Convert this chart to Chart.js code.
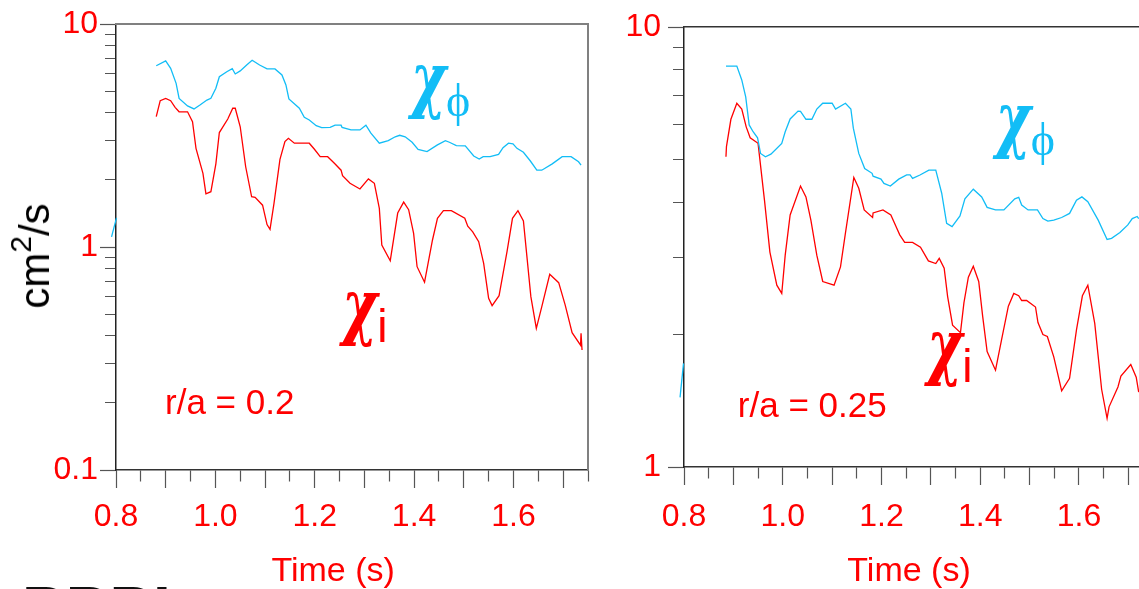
<!DOCTYPE html>
<html>
<head>
<meta charset="utf-8">
<script src="https://cdn.jsdelivr.net/npm/chart.js@4/dist/chart.umd.min.js"></script>
<style>
  html, body { margin: 0; padding: 0; background: #fff; }
  body { width: 1139px; height: 589px; overflow: hidden; position: relative; font-family: "Liberation Sans", Arial, sans-serif; }
  canvas { position: absolute; top: 0; }
  #c1 { left: 0; }
  #c2 { left: 570px; }
  #ytitle { position: absolute; left: 37px; top: 256px; transform: translate(-50%, -50%) rotate(-90deg);
            font-size: 42px; line-height: 42px; white-space: nowrap; color: #000; }
  #ytitle sup { font-size: 30px; position: relative; top: -18px; vertical-align: baseline; }
  #logo { position: absolute; left: 22px; top: 578px; font: bold 64px/64px "Liberation Sans", Arial, sans-serif; color: #111; letter-spacing: 1px; }
</style>
</head>
<body>
<canvas id="c1" width="600" height="589"></canvas>
<canvas id="c2" width="600" height="589"></canvas>
<div id="ytitle">cm<sup>2</sup>/s</div>
<div id="logo">PPPL</div>
<script>
// ---------------- data ----------------
// Left panel (r/a = 0.2): [time (s), chi (cm^2/s)]
const leftChiPhi = [
  [0.881,6.50],[0.900,6.83],[0.910,6.33],[0.921,5.42],[0.927,4.64],[0.944,4.29],[0.957,4.16],[0.969,4.33],
  [0.983,4.56],[0.991,4.64],[1.001,5.15],[1.008,5.80],[1.023,6.11],[1.034,6.30],[1.040,5.97],[1.050,6.16],
  [1.063,6.55],[1.074,6.88],[1.089,6.55],[1.104,6.29],[1.120,6.29],[1.134,5.91],[1.142,5.33],[1.148,4.61],
  [1.169,4.19],[1.179,3.82],[1.189,3.71],[1.203,3.50],[1.214,3.43],[1.231,3.44],[1.241,3.52],[1.253,3.52],
  [1.255,3.44],[1.273,3.35],[1.291,3.35],[1.303,3.52],[1.313,3.24],[1.330,2.92],[1.348,3.00],[1.362,3.12],
  [1.371,3.17],[1.382,3.12],[1.396,2.95],[1.408,2.74],[1.426,2.68],[1.447,2.87],[1.463,3.00],[1.471,2.95],
  [1.485,2.85],[1.503,2.84],[1.520,2.56],[1.531,2.48],[1.539,2.54],[1.553,2.54],[1.570,2.60],[1.579,2.79],
  [1.590,2.92],[1.599,2.90],[1.607,2.77],[1.620,2.66],[1.634,2.43],[1.647,2.21],[1.657,2.21],[1.678,2.36],
  [1.698,2.54],[1.716,2.54],[1.731,2.41],[1.736,2.33]
];
const leftChiI = [
  [0.881,3.84],[0.889,4.53],[0.900,4.64],[0.910,4.53],[0.919,4.23],[0.927,4.04],[0.944,4.04],[0.954,3.65],
  [0.961,2.77],[0.975,2.14],[0.981,1.73],[0.991,1.77],[1.001,2.36],[1.008,3.26],[1.025,3.75],[1.035,4.19],
  [1.040,4.19],[1.050,3.46],[1.061,2.29],[1.073,1.68],[1.080,1.67],[1.095,1.54],[1.104,1.26],[1.110,1.20],
  [1.118,1.57],[1.130,2.47],[1.140,2.97],[1.147,3.07],[1.159,2.92],[1.189,2.92],[1.199,2.75],[1.211,2.54],
  [1.226,2.54],[1.240,2.37],[1.253,2.21],[1.256,2.09],[1.271,1.93],[1.291,1.82],[1.308,2.02],[1.320,1.93],
  [1.330,1.49],[1.335,1.02],[1.352,0.868],[1.367,1.42],[1.379,1.59],[1.389,1.47],[1.399,1.15],[1.406,0.816],
  [1.421,0.695],[1.437,1.075],[1.447,1.345],[1.459,1.455],[1.475,1.455],[1.502,1.345],[1.508,1.24],[1.518,1.17],
  [1.530,1.056],[1.540,0.845],[1.550,0.589],[1.557,0.546],[1.571,0.605],[1.587,0.953],[1.598,1.345],[1.609,1.455],
  [1.620,1.31],[1.635,0.599],[1.646,0.432],[1.657,0.540],[1.673,0.754],[1.691,0.692],[1.704,0.550],[1.718,0.413],
  [1.735,0.363],[1.736,0.410],[1.738,0.345]
];
const leftEdgeTrace = [[0.791,1.11],[0.801,1.35]];

// Right panel (r/a = 0.25)
const rightChiPhi = [
  [0.885,8.15],[0.907,8.15],[0.917,7.58],[0.925,6.94],[0.932,5.99],[0.940,5.78],[0.949,5.60],[0.955,5.16],
  [0.965,5.07],[0.976,5.14],[0.998,5.44],[1.005,5.78],[1.015,6.18],[1.031,6.44],[1.036,6.43],[1.047,6.17],
  [1.059,6.17],[1.069,6.51],[1.081,6.71],[1.100,6.71],[1.107,6.51],[1.127,6.71],[1.138,6.51],[1.143,5.89],
  [1.154,5.16],[1.166,4.77],[1.181,4.65],[1.183,4.58],[1.199,4.51],[1.205,4.41],[1.218,4.35],[1.235,4.51],
  [1.251,4.61],[1.258,4.61],[1.263,4.53],[1.278,4.61],[1.296,4.73],[1.310,4.73],[1.322,4.19],[1.332,3.58],
  [1.343,3.52],[1.359,3.72],[1.369,4.07],[1.386,4.28],[1.403,4.11],[1.414,3.89],[1.431,3.84],[1.448,3.84],
  [1.470,4.07],[1.478,4.10],[1.484,3.94],[1.497,3.84],[1.516,3.84],[1.527,3.67],[1.537,3.62],[1.549,3.64],
  [1.565,3.69],[1.581,3.77],[1.595,4.04],[1.606,4.11],[1.618,4.01],[1.639,3.64],[1.657,3.29],[1.666,3.31],
  [1.683,3.41],[1.699,3.55],[1.708,3.67],[1.718,3.71],[1.721,3.67]
];
const rightChiI = [
  [0.885,5.07],[0.886,5.35],[0.895,6.17],[0.907,6.71],[0.917,6.51],[0.926,5.93],[0.934,5.60],[0.950,5.44],
  [0.963,4.04],[0.974,3.08],[0.988,2.59],[0.998,2.48],[1.005,3.03],[1.015,3.74],[1.036,4.35],[1.047,4.11],
  [1.057,3.64],[1.069,3.03],[1.081,2.64],[1.104,2.59],[1.117,2.85],[1.127,3.40],[1.144,4.55],[1.154,4.30],
  [1.165,3.84],[1.182,3.69],[1.183,3.78],[1.203,3.84],[1.219,3.74],[1.229,3.53],[1.237,3.37],[1.247,3.24],
  [1.263,3.24],[1.279,3.16],[1.295,2.94],[1.310,2.90],[1.317,2.98],[1.327,2.83],[1.334,2.44],[1.344,2.10],
  [1.360,2.02],[1.367,2.36],[1.376,2.70],[1.386,2.86],[1.397,2.64],[1.405,2.20],[1.414,1.83],[1.431,1.66],
  [1.443,1.94],[1.457,2.32],[1.468,2.48],[1.478,2.45],[1.484,2.39],[1.494,2.39],[1.512,2.31],[1.517,2.13],
  [1.527,2.00],[1.536,1.98],[1.549,1.78],[1.565,1.49],[1.581,1.59],[1.595,2.05],[1.607,2.45],[1.618,2.59],
  [1.632,2.12],[1.646,1.50],[1.657,1.29],[1.661,1.37],[1.679,1.52],[1.685,1.61],[1.705,1.71],[1.716,1.60],
  [1.721,1.48]
];
const rightEdgeTrace = [[0.792,1.44],[0.799,1.72]];

// ticks
const xTickValues = [0.80,0.85,0.90,0.95,1.00,1.05,1.10,1.15,1.20,1.25,1.30,1.35,1.40,1.45,1.50,1.55,1.60,1.65,1.70,1.75];
const xLabelValues = [0.8, 1.0, 1.2, 1.4, 1.6];
const xLabelTexts  = ['0.8', '1.0', '1.2', '1.4', '1.6'];
const leftYTicks = [0.1,0.2,0.3,0.4,0.5,0.6,0.7,0.8,0.9,1,2,3,4,5,6,7,8,9,10];
const leftYLabelValues = [0.1, 1, 10];
const leftYLabelTexts  = ['0.1', '1', '10'];
const rightYTicks = [1,2,3,4,5,6,7,8,9,10];
const rightYLabelValues = [1, 10];
const rightYLabelTexts  = ['1', '10'];

// text labels
const RED = '#FF0000';
const CYAN = '#12BDF6';
const CHI_FONT = 'italic bold 72px "DejaVu Serif", "Liberation Serif", serif';
const PHI_FONT = '46px "Liberation Serif", "DejaVu Serif", serif';
const SUB_FONT = '46px "Liberation Sans", Arial, sans-serif';
const RA_FONT  = '35px "Liberation Sans", Arial, sans-serif';
const CHI_SX = 0.74;
const leftNotes = [
  { x: 1.3935, y: 4.37, color: CYAN, parts: [{ text: 'χ', font: CHI_FONT, sx: CHI_SX }, { text: 'ϕ', font: PHI_FONT, dy: 12 }] },
  { x: 1.2555, y: 0.420, color: RED, parts: [{ text: 'χ', font: CHI_FONT, sx: CHI_SX }, { text: 'i', font: SUB_FONT, dy: 11 }] },
  { x: 0.8987, y: 0.178, color: RED, parts: [{ text: 'r/a = 0.2', font: RA_FONT }] }
];
const rightNotes = [
  { x: 1.4315, y: 5.42, color: CYAN, parts: [{ text: 'χ', font: CHI_FONT, sx: CHI_SX }, { text: 'ϕ', font: PHI_FONT, dy: 11 }] },
  { x: 1.2927, y: 1.652, color: RED, parts: [{ text: 'χ', font: CHI_FONT, sx: CHI_SX }, { text: 'i', font: SUB_FONT, dy: 11 }] },
  { x: 0.909, y: 1.299, color: RED, parts: [{ text: 'r/a = 0.25', font: RA_FONT }] }
];

// ---------------- helpers ----------------
const TICK_FONT = { family: '"Liberation Sans", Arial, sans-serif', size: 32 };
const near = (a, b) => Math.abs(a - b) < 1e-9;
const isMajorX = v => Math.round(v * 100) % 10 === 0;
function labelFrom(values, texts, v) {
  const i = values.findIndex(lv => near(lv, v) || near(Math.round(v * 100) / 100, lv));
  return i >= 0 ? texts[i] : '';
}
function makeNotes(items) {
  return {
    id: 'notes',
    afterDatasetsDraw(chart) {
      const ctx = chart.ctx, xs = chart.scales.x, ys = chart.scales.y;
      ctx.save();
      ctx.textBaseline = 'alphabetic';
      ctx.textAlign = 'left';
      items.forEach(it => {
        let px = xs.getPixelForValue(it.x);
        const py = ys.getPixelForValue(it.y);
        ctx.fillStyle = it.color;
        it.parts.forEach(p => {
          const sx = p.sx || 1;
          ctx.font = p.font;
          ctx.save();
          ctx.translate(px + (p.dx || 0), py + (p.dy || 0));
          ctx.scale(sx, 1);
          ctx.fillText(p.text, 0, 0);
          ctx.restore();
          px += ctx.measureText(p.text).width * sx + (p.dx || 0);
        });
      });
      ctx.restore();
    }
  };
}
const toXY = arr => arr.map(([x, y]) => ({ x, y }));

function buildChart(id, p) {
  const lineDs = (data, color, extra) => Object.assign({
    data: toXY(data), borderColor: color, backgroundColor: color, borderWidth: 1.3,
    pointRadius: 0, fill: false, tension: 0, xAxisID: 'x', yAxisID: 'y'
  }, extra || {});
  return new Chart(document.getElementById(id), {
    type: 'line',
    data: {
      datasets: [
        lineDs(p.phi, CYAN),
        lineDs(p.chiI, RED),
        lineDs(p.edge, CYAN, { clip: false })
      ]
    },
    options: {
      responsive: false,
      animation: false,
      events: [],
      layout: { padding: 0 },
      plugins: { legend: { display: false }, tooltip: { enabled: false } },
      scales: {
        x: {
          type: 'linear', position: 'bottom', min: 0.8, max: 1.75,
          afterBuildTicks: s => { s.ticks = xTickValues.map(v => ({ value: v })); },
          afterFit: s => { s.height = p.xH; },
          ticks: {
            autoSkip: false, maxRotation: 0, minRotation: 0, color: RED, font: TICK_FONT,
            padding: p.xPad, labelOffset: p.xLabelOffset,
            callback: v => labelFrom(xLabelValues, xLabelTexts, v)
          },
          grid: {
            display: true, drawOnChartArea: false, drawTicks: true, tickLength: 18,
            tickColor: '#555', tickWidth: 1.2,
            tickBorderDash: c => (c.tick && !isMajorX(c.tick.value)) ? [11, 100] : []
          },
          border: { display: true, color: '#333', width: 1.5 },
          title: {
            display: true, text: p.xTitle, color: RED,
            font: { family: '"Liberation Sans", Arial, sans-serif', size: 34, lineHeight: 1 },
            padding: { top: 0, bottom: 0 }
          }
        },
        y: {
          type: 'logarithmic', position: 'left', min: p.yMin, max: p.yMax,
          afterBuildTicks: s => { s.ticks = p.yTicks.map(v => ({ value: v })); },
          afterFit: s => { s.width = p.yW; },
          ticks: {
            autoSkip: false, color: RED, font: TICK_FONT, padding: p.yPad,
            callback: v => labelFrom(p.yLabelValues, p.yLabelTexts, v)
          },
          grid: {
            display: true, drawOnChartArea: false, drawTicks: true, tickLength: 16,
            tickColor: '#555', tickWidth: 1.2,
            tickBorderDash: c => (c.tick && !p.yLabelValues.some(lv => near(lv, c.tick.value))) ? [0, 5, 11, 100] : []
          },
          border: { display: true, color: '#222', width: 1.5 }
        },
        x2: {
          type: 'linear', position: 'top', min: 0.8, max: 1.75,
          afterFit: s => { s.height = p.topH; },
          grid: { display: false }, ticks: { display: false },
          border: { display: true, color: p.topColor, width: p.topWidth }
        },
        y2: {
          type: 'logarithmic', position: 'right', min: p.yMin, max: p.yMax,
          afterFit: s => { s.width = p.rightW; },
          grid: { display: false }, ticks: { display: false },
          border: { display: p.rightBorder, color: '#808080', width: 2 }
        }
      }
    },
    plugins: [makeNotes(p.notes)]
  });
}

buildChart('c1', {
  phi: leftChiPhi, chiI: leftChiI, edge: leftEdgeTrace,
  yMin: 0.1, yMax: 10, yTicks: leftYTicks, yLabelValues: leftYLabelValues, yLabelTexts: leftYLabelTexts,
  yW: 116, rightW: 12, xH: 119, topH: 24, yPad: 2, xPad: 10, xLabelOffset: 0,
  topColor: '#808080', topWidth: 2, rightBorder: true,
  xTitle: 'Time (s)\u00A0\u00A0\u00A0\u00A0', notes: leftNotes
});
buildChart('c2', {
  phi: rightChiPhi, chiI: rightChiI, edge: rightEdgeTrace,
  yMin: 1, yMax: 10, yTicks: rightYTicks, yLabelValues: rightYLabelValues, yLabelTexts: rightYLabelTexts,
  yW: 114, rightW: 17, xH: 122, topH: 27, yPad: 7, xPad: 13, xLabelOffset: 0,
  topColor: '#333', topWidth: 1.5, rightBorder: false,
  xTitle: 'Time (s)\u00A0\u00A0', notes: rightNotes
});
</script>
</body>
</html>
